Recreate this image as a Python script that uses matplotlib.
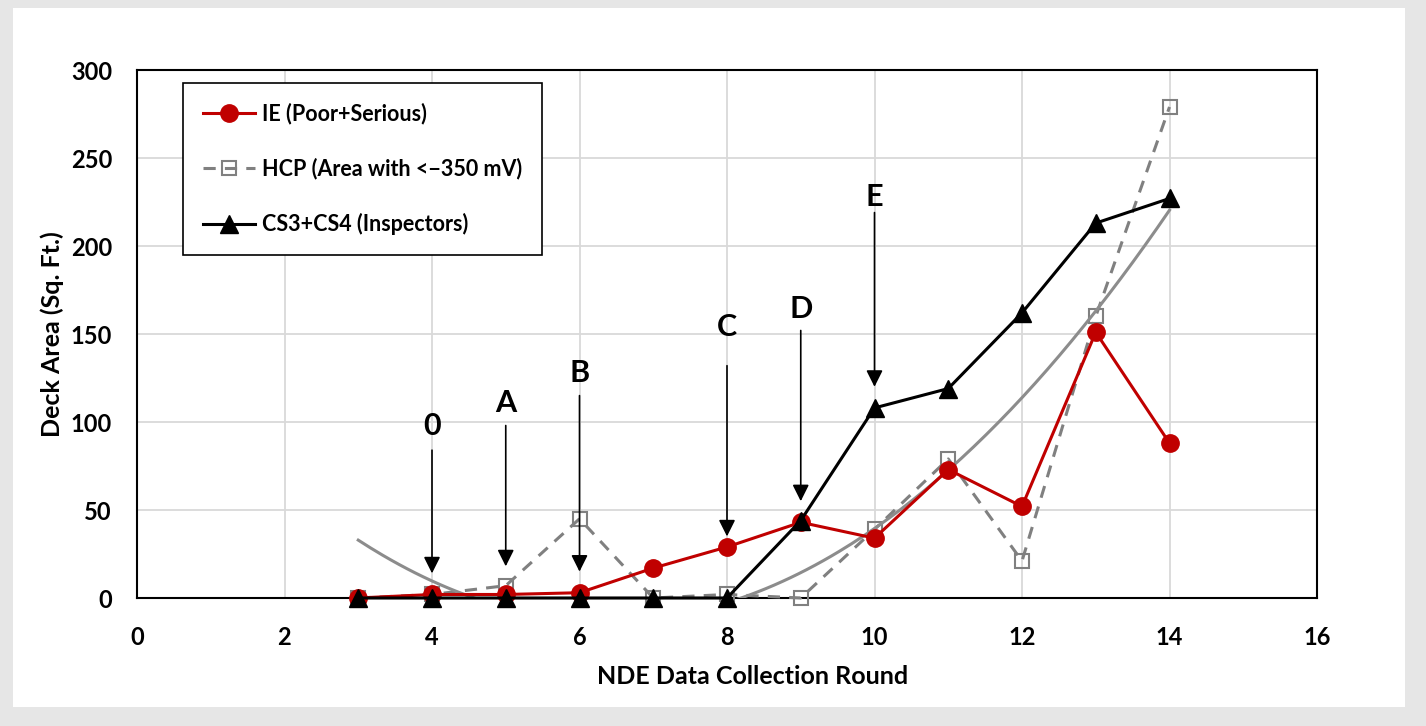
import numpy as np
import matplotlib
matplotlib.use("Agg")
import matplotlib.pyplot as plt
from matplotlib.patches import Rectangle

plt.rcParams['font.family'] = ['Lato', 'DejaVu Sans']

rounds = [3, 4, 5, 6, 7, 8, 9, 10, 11, 12, 13, 14]
ie = [0, 2, 2, 3, 17, 29, 43, 34, 73, 52, 151, 88]
hcp = [0, 2, 7, 45, 0, 2, 0, 39, 79, 21, 160, 279]
cs = [0, 0, 0, 0, 0, 0, 44, 108, 119, 162, 213, 227]

ann_labels = ['0', 'A', 'B', 'C', 'D', 'E']
ann_x = [4, 5, 6, 8, 9, 10]
ann_text_y = [98, 111, 128, 154, 164, 228]
ann_start_y = [84, 98, 115, 132, 152, 219]
ann_end_y = [14, 18, 15, 35, 55, 120]

xticks = [0, 2, 4, 6, 8, 10, 12, 14, 16]
yticks = [0, 50, 100, 150, 200, 250, 300]

fig = plt.figure(figsize=(14.26, 7.26), dpi=100, facecolor='#e6e6e6')
fig.patches.append(Rectangle((13 / 1426, 1 - 707 / 726), (1405 - 13) / 1426, (707 - 8) / 726,
                             transform=fig.transFigure, facecolor='white', edgecolor='none', zorder=-5))
ax = fig.add_axes([137 / 1426, 1 - 598 / 726, (1317 - 137) / 1426, (598 - 70) / 726])
ax.set_facecolor('none')
ax.set_zorder(1)

# polynomial trendline of HCP series
coef = np.polyfit(rounds, hcp, 2)
xs = np.linspace(3, 14, 200)
ax.plot(xs, np.polyval(coef, xs), color='#8c8c8c', lw=2.2, zorder=3)

ax.plot(rounds, hcp, color='#808080', lw=2.2, ls=(0, (4, 3)), marker='s', ms=10,
        mfc='none', mec='#808080', mew=1.5, zorder=2, clip_on=False,
        label='HCP (Area with <\u2212350 mV)')
ax.plot(rounds, ie, color='#c00000', lw=2.2, marker='o', ms=12.5, mec='#c00000',
        zorder=4, clip_on=False, label='IE (Poor+Serious)')
ax.plot(rounds, cs, color='black', lw=2.2, marker='^', ms=13, zorder=5, clip_on=False,
        label='CS3+CS4 (Inspectors)')

for lab, x, ty, sy, ey in zip(ann_labels, ann_x, ann_text_y, ann_start_y, ann_end_y):
    ax.text(x, ty, lab, ha='center', va='center', fontsize=22, fontweight='bold', zorder=6)
    ax.annotate('', xy=(x, ey), xytext=(x, sy),
                arrowprops=dict(arrowstyle='-|>,head_length=1.0,head_width=0.5',
                                color='black', lw=1.2, shrinkA=0, shrinkB=0), zorder=6)

ax.set_xlim(0, 16)
ax.set_ylim(0, 300)
ax.set_xticks(xticks)
ax.set_yticks(yticks)
ax.grid(True, color='#d9d9d9', lw=1.3)
ax.set_axisbelow(True)
for s in ax.spines.values():
    s.set_color('black')
    s.set_linewidth(1.5)
    s.set_zorder(1)
ax.tick_params(axis='both', length=0, labelsize=17)
ax.tick_params(axis='y', pad=18)
ax.tick_params(axis='x', pad=20)
for t in ax.get_xticklabels() + ax.get_yticklabels():
    t.set_fontweight('bold')
ax.set_xlabel('NDE Data Collection Round', fontsize=18, fontweight='bold', labelpad=12)
ax.xaxis.label.set_x((753 - 137) / 1180)
ax.set_ylabel('Deck Area (Sq. Ft.)', fontsize=18, fontweight='bold', labelpad=5)

h, l = ax.get_legend_handles_labels()
order = [1, 0, 2]
leg = ax.legend([h[i] for i in order], [l[i] for i in order], loc='upper left',
                bbox_to_anchor=((183 - 137) / 1180, 1 - (83 - 70) / 528),
                borderaxespad=0, fancybox=False, edgecolor='black', framealpha=1,
                prop={'weight': 'bold', 'size': 15.5}, labelspacing=1.55,
                borderpad=0.93, handlelength=2.4, handletextpad=0.33)
leg.get_frame().set_linewidth(1.2)
leg.set_zorder(7)

fig.savefig('out.png', dpi=100, facecolor=fig.get_facecolor())
